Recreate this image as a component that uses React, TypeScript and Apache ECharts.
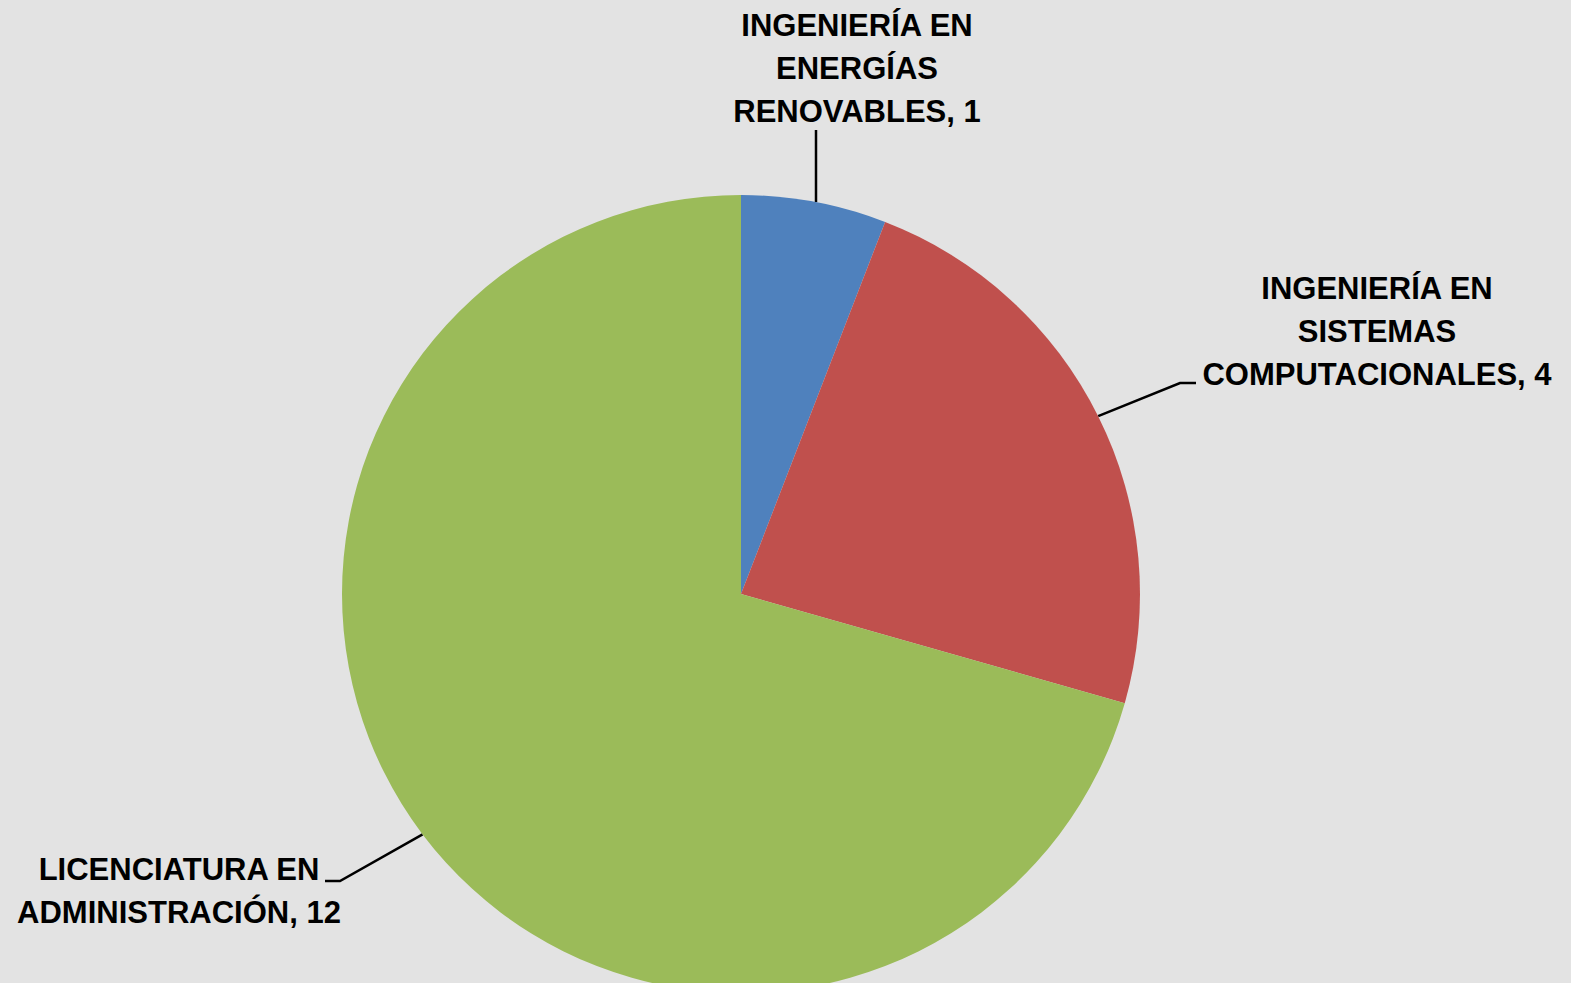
import React, { useEffect, useRef } from "react";
import * as echarts from "echarts";

const categories = [
  "INGENIERÍA EN\nENERGÍAS\nRENOVABLES",
  "INGENIERÍA EN\nSISTEMAS\nCOMPUTACIONALES",
  "LICENCIATURA EN\nADMINISTRACIÓN",
];
const values = [1, 4, 12];
const colors = ["#4f81bd", "#c0504d", "#9bbb59"];

// label anchor positions (x, y) and leader elbow points
const labelPos: [number, number][] = [
  [857, 68],
  [1377, 331],
  [179, 891],
];
const elbows: [number, number][][] = [
  [[816, 130], [816, 130]],
  [[1180, 383], [1196, 383]],
  [[340, 881], [325, 881]],
];

export default function App() {
  const ref = useRef<HTMLDivElement>(null);
  useEffect(() => {
    document.body.style.margin = "0";
    const chart = echarts.init(ref.current!, null, { renderer: "svg" });
    const center = [741, 594];
    const R = 399;
    chart.setOption({
      animation: false,
      backgroundColor: "#e3e3e3",
      series: [
        {
          type: "pie",
          center,
          radius: [0, R],
          startAngle: 90,
          clockwise: true,
          data: categories.map((name, i) => ({
            name,
            value: values[i],
            itemStyle: { color: colors[i] },
          })),
          label: {
            show: true,
            formatter: "{b}, {c}",
            color: "#000",
            fontWeight: "bold",
            fontSize: 31,
            lineHeight: 43,
            fontFamily: "Liberation Sans, Arial, sans-serif",
            align: "center",
          },
          labelLine: {
            show: true,
            lineStyle: { color: "#000", width: 2.5 },
          },
          labelLayout: (params: any) => {
            const i = params.dataIndex;
            const p0 = params.labelLinePoints ? params.labelLinePoints[0] : null;
            let start = p0;
            if (!start) {
              let before = 0;
              for (let k = 0; k < i; k++) before += values[k];
              const total = values.reduce((a, b) => a + b, 0);
              const ang = ((before + values[i] / 2) / total) * Math.PI * 2;
              start = [center[0] + R * Math.sin(ang), center[1] - R * Math.cos(ang)];
            }
            if (i === 0) {
              const dx = elbows[0][0][0] - center[0];
              start = [elbows[0][0][0], center[1] - Math.sqrt(R * R - dx * dx)];
            }
            return {
              x: labelPos[i][0],
              y: labelPos[i][1],
              align: "center",
              verticalAlign: "middle",
              labelLinePoints: [start, elbows[i][0], elbows[i][1]],
            };
          },
        },
      ],
    });
    return () => chart.dispose();
  }, []);
  return (
    <div
      ref={ref}
      style={{ position: "fixed", left: 0, top: 0, width: 1571, height: 983 }}
    />
  );
}
